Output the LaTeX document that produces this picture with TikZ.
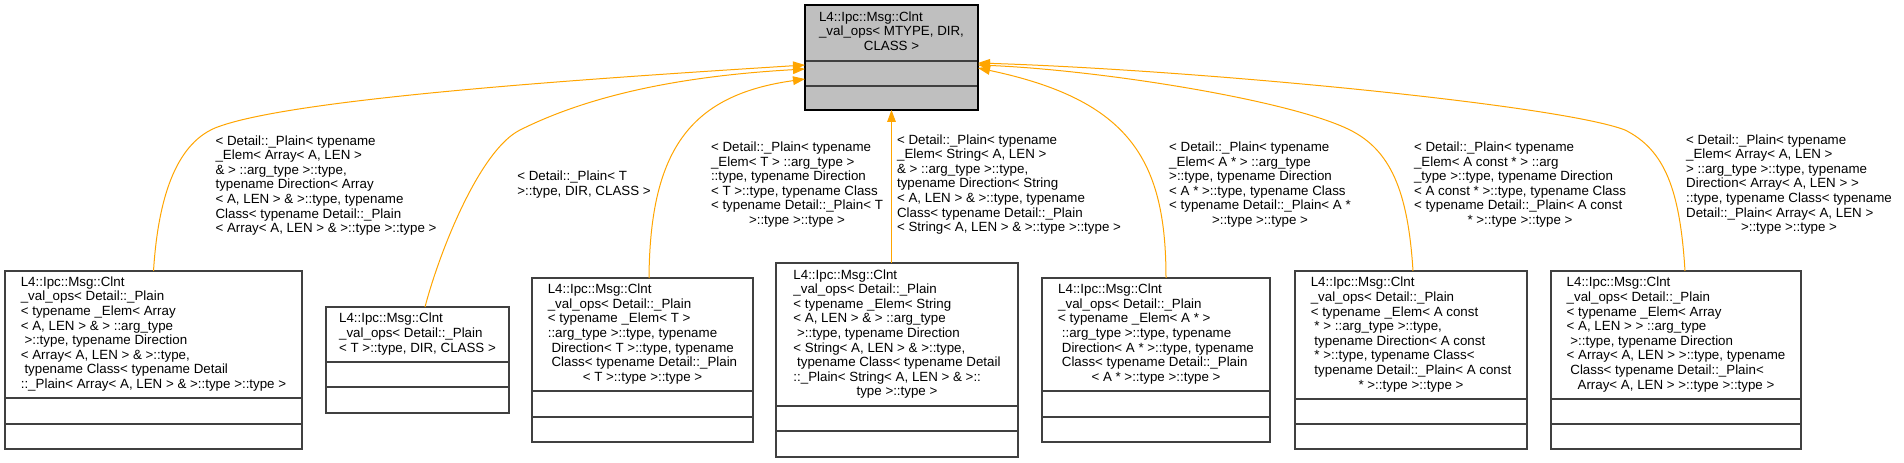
\documentclass[tikz,border=0pt]{standalone}
\usepackage{fontspec}
\setmainfont{Liberation Sans}
\usepackage{tikz}
\usetikzlibrary{arrows.meta,calc}
\definecolor{edgecol}{HTML}{FFA500}
\definecolor{basefill}{HTML}{BFBFBF}
\definecolor{boxline}{HTML}{404040}
% lines left aligned, the last one centred
\newcommand{\dlabel}[2]{\begin{tabular}{@{}l@{}}#1\\\multicolumn{1}{@{}c@{}}{#2}\end{tabular}}
% name, x1, y1, x2, y2, divider 1, divider 2, fill, title
\newcommand{\umlclass}[9]{%
  \node[classbox,fill=#8,minimum width={(#4-#2)*0.75pt},minimum height={(#5-#3)*0.75pt}] (#1) at (#2,#3) {};
  \draw[classline] (#2,#6) -- (#4,#6) (#2,#7) -- (#4,#7);
  \node[classtext] (#1-name) at ({(#2+#4)/2},{(#3+#6)/2}) {#9};
}

\begin{document}
\begin{tikzpicture}[x=0.75pt,y=-0.75pt,
  every node/.style={font=\fontsize{10}{10.95}\selectfont},
  classbox/.style={draw=boxline,line width=0.8pt,inner sep=0pt,outer sep=0pt,anchor=north west},
  classline/.style={draw=boxline,line width=0.8pt},
  classtext/.style={inner sep=0pt},
  edgetext/.style={inner sep=0pt},
  inh/.style={draw=edgecol,line width=0.75pt,-{Triangle[length=9pt,width=6.5pt]}}]
\path[fill=white] (0,0) rectangle (1904,463);
\useasboundingbox (0,0) rectangle (1904,463);

% ---- base template ----
\umlclass{base}{805}{5}{978}{110}{61}{86}{basefill}{\dlabel{L4::Ipc::Msg::Clnt\\\_val\_ops< MTYPE, DIR,}{CLASS >}}
\draw[black,line width=0.8pt] (base.north west) rectangle (base.south east);

% ---- instantiations ----
\umlclass{inArr}{5}{271}{302}{449}{398}{424}{white}{\dlabel{L4::Ipc::Msg::Clnt\\\_val\_ops< Detail::\_Plain\\< typename \_Elem< Array\\< A, LEN > \& > ::arg\_type\\\ >::type, typename Direction\\< Array< A, LEN > \& >::type,\\\ typename Class< typename Detail}{::\_Plain< Array< A, LEN > \& >::type >::type >}}
\umlclass{inT}{326}{307}{509}{413}{362}{387}{white}{\dlabel{L4::Ipc::Msg::Clnt\\\_val\_ops< Detail::\_Plain}{< T >::type, DIR, CLASS >}}
\umlclass{inElemT}{532}{278}{753}{442}{391}{417}{white}{\dlabel{L4::Ipc::Msg::Clnt\\\_val\_ops< Detail::\_Plain\\< typename \_Elem< T >\\::arg\_type >::type, typename\\\ Direction< T >::type, typename\\\ Class< typename Detail::\_Plain}{< T >::type >::type >}}
\umlclass{inStr}{776}{263}{1018}{457}{406}{431}{white}{\dlabel{L4::Ipc::Msg::Clnt\\\_val\_ops< Detail::\_Plain\\< typename \_Elem< String\\< A, LEN > \& > ::arg\_type\\\ >::type, typename Direction\\< String< A, LEN > \& >::type,\\\ typename Class< typename Detail\\::\_Plain< String< A, LEN > \& >::}{type >::type >}}
\umlclass{inPtr}{1042}{278}{1270}{442}{391}{417}{white}{\dlabel{L4::Ipc::Msg::Clnt\\\_val\_ops< Detail::\_Plain\\< typename \_Elem< A * >\\\ ::arg\_type >::type, typename\\\ Direction< A * >::type, typename\\\ Class< typename Detail::\_Plain}{< A * >::type >::type >}}
\umlclass{inCPtr}{1295}{271}{1527}{449}{399}{424}{white}{\dlabel{L4::Ipc::Msg::Clnt\\\_val\_ops< Detail::\_Plain\\< typename \_Elem< A const\\\ * > ::arg\_type >::type,\\\ typename Direction< A const\\\ * >::type, typename Class<\\\ typename Detail::\_Plain< A const}{* >::type >::type >}}
\umlclass{inArrV}{1551}{271}{1801}{449}{399}{424}{white}{\dlabel{L4::Ipc::Msg::Clnt\\\_val\_ops< Detail::\_Plain\\< typename \_Elem< Array\\< A, LEN > > ::arg\_type\\\ >::type, typename Direction\\< Array< A, LEN > >::type, typename\\\ Class< typename Detail::\_Plain<}{Array< A, LEN > >::type >::type >}}

% ---- inheritance edges ----
\draw[inh] (inArr.north) .. controls (158,200) and (175,145) .. (215,128)
  .. controls (290,98) and (600,78) .. ($(base.west)+(0,7.5)$);
\draw[inh] ($(inT.north)+(7.5,0)$) .. controls (440,250) and (480,150) .. (520,130)
  .. controls (600,90) and (700,75) .. ($(base.west)+(0,11.5)$);
\draw[inh] ($(inElemT.north)+(6.5,0)$) .. controls (650,150) and (690,95) .. ($(base.west)+(0,21.5)$);
\draw[inh] (base.south |- inStr.north) -- (base.south);
\draw[inh] ($(inPtr.north)+(10,0)$) .. controls (1166,160) and (1130,100) .. ($(base.east)+(0,10.5)$);
\draw[inh] ($(inCPtr.north)+(2,0)$) .. controls (1408,190) and (1390,150) .. (1350,130)
  .. controls (1290,100) and (1100,70) .. ($(base.east)+(0,7.5)$);
\draw[inh] ($(inArrV.north)+(9,0)$) .. controls (1680,190) and (1665,150) .. (1625,130)
  .. controls (1560,105) and (1200,70) .. ($(base.east)+(0,5.5)$);

% ---- edge labels ----
\node[edgetext] (l1) at (326,186) {\dlabel{< Detail::\_Plain< typename\\\_Elem< Array< A, LEN >\\\& > ::arg\_type >::type,\\typename Direction< Array\\< A, LEN > \& >::type, typename\\Class< typename Detail::\_Plain}{< Array< A, LEN > \& >::type >::type >}};
\node[edgetext] (l2) at (584,185) {\dlabel{< Detail::\_Plain< T}{>::type, DIR, CLASS >}};
\node[edgetext] (l3) at (797,185) {\dlabel{< Detail::\_Plain< typename\\\_Elem< T > ::arg\_type >\\::type, typename Direction\\< T >::type, typename Class\\< typename Detail::\_Plain< T}{>::type >::type >}};
\node[edgetext] (l4) at (1009,185) {\dlabel{< Detail::\_Plain< typename\\\_Elem< String< A, LEN >\\\& > ::arg\_type >::type,\\typename Direction< String\\< A, LEN > \& >::type, typename\\Class< typename Detail::\_Plain}{< String< A, LEN > \& >::type >::type >}};
\node[edgetext] (l5) at (1260,185) {\dlabel{< Detail::\_Plain< typename\\\_Elem< A * > ::arg\_type\\>::type, typename Direction\\< A * >::type, typename Class\\< typename Detail::\_Plain< A *}{>::type >::type >}};
\node[edgetext] (l6) at (1520,185) {\dlabel{< Detail::\_Plain< typename\\\_Elem< A const * > ::arg\\\_type >::type, typename Direction\\< A const * >::type, typename Class\\< typename Detail::\_Plain< A const}{* >::type >::type >}};
\node[edgetext] (l7) at (1789,185) {\dlabel{< Detail::\_Plain< typename\\\_Elem< Array< A, LEN >\\> ::arg\_type >::type, typename\\Direction< Array< A, LEN > >\\::type, typename Class< typename\\Detail::\_Plain< Array< A, LEN >}{>::type >::type >}};
\end{tikzpicture}
\end{document}
